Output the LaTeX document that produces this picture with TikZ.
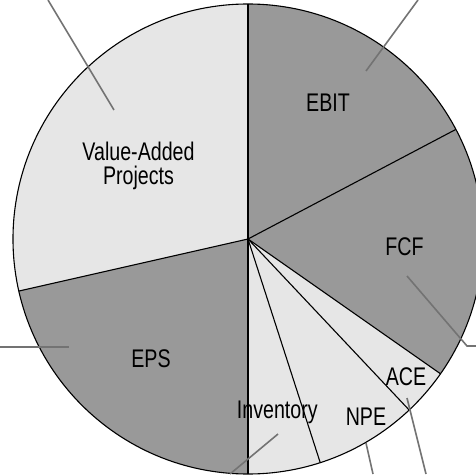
\documentclass[tikz,border=0pt]{standalone}
\usepackage{fontspec}
\setmainfont{Liberation Sans}[FakeStretch=0.77]
\usepackage{xcolor}
\usepackage{tikz}
\definecolor{slicelight}{HTML}{E6E6E6}
\definecolor{slicedark}{HTML}{999999}
\definecolor{leadergray}{HTML}{737373}

\begin{document}
\begin{tikzpicture}[x=1pt, y=1pt,
    slicelabel/.style={anchor=base, inner sep=0pt, font=\fontsize{25.5}{24}\selectfont},
    leader/.style={draw=leadergray, line width=1.6pt},
    edge/.style={draw=black, line width=1.1pt}]
        \useasboundingbox (-248,-235) rectangle (228,239);
        \begin{scope}
        \clip (-248,-235) rectangle (228,239);

        % Slices
        \path [fill=slicelight] (0,0) -- (90:235) arc[start angle=90, end angle=192.8, radius=235] -- cycle;
        \path [fill=slicedark] (0,0) -- (192.8:235) arc[start angle=192.8, end angle=270, radius=235] -- cycle;
        \path [fill=slicelight] (0,0) -- (270:235) arc[start angle=270, end angle=325, radius=235] -- cycle;
        \path [fill=slicedark] (0,0) -- (325:235) arc[start angle=325, end angle=450, radius=235] -- cycle;

        % Edges
        \path [edge] (0,0) circle[radius=235];
        \foreach \ang in {90, 27.8, -35, -46.7, -72.1, -90, 192.8}
            \path [edge] (0,0) -- (\ang:235);

        % Labels
        \node [slicelabel] (ebit) at (80,127) {EBIT};
        \node [slicelabel, align=center] (valueadded) at (-109.5,55) {Value-Added\\Projects};
        \node [slicelabel] (fcf) at (156.5,-16) {FCF};
        \node [slicelabel] (eps) at (-97,-128) {EPS};
        \node [slicelabel] (ace) at (158,-146) {ACE};
        \node [slicelabel] (npe) at (118,-186) {NPE};
        \node [slicelabel] (inventory) at (29.3,-179) {Inventory};

        % Leader lines
        \coordinate (valueadded-a) at (-134,129);
        \coordinate (valueadded-b) at (-200,239);
        \coordinate (ebit-a) at (118,168);
        \coordinate (ebit-b) at (170,239);
        \coordinate (fcf-a) at (159,-37);
        \coordinate (fcf-b) at (219,-107);
        \coordinate (fcf-c) at (228,-107);
        \coordinate (eps-a) at (-179,-108);
        \coordinate (eps-b) at (-248,-108);
        \coordinate (inventory-a) at (30,-195);
        \coordinate (inventory-b) at (-18,-235);
        \coordinate (npe-a) at (118,-204);
        \coordinate (npe-b) at (125,-235);
        \coordinate (ace-a) at (159,-159);
        \coordinate (ace-b) at (178,-235);

        \path [leader] (valueadded-a) -- (valueadded-b);
        \path [leader] (ebit-a) -- (ebit-b);
        \path [leader] (fcf-a) -- (fcf-b) -- (fcf-c);
        \path [leader] (eps-a) -- (eps-b);
        \path [leader] (inventory-a) -- (inventory-b);
        \path [leader] (npe-a) -- (npe-b);
        \path [leader] (ace-a) -- (ace-b);
        \end{scope}
    \end{tikzpicture}
\end{document}
